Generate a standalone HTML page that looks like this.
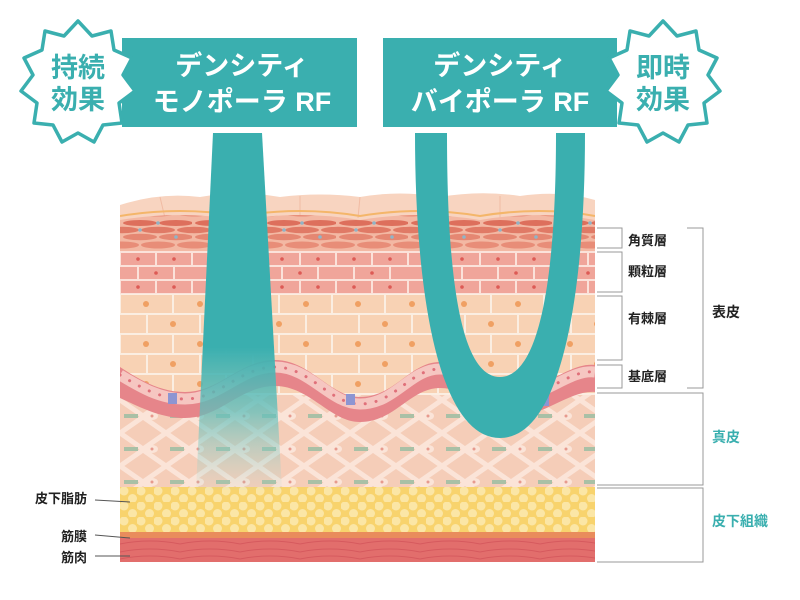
<!DOCTYPE html>
<html><head><meta charset="utf-8"><style>
html,body{margin:0;padding:0;background:#fff;width:800px;height:600px;overflow:hidden}
svg{display:block}
text{font-family:"Liberation Sans","Noto Sans CJK JP",sans-serif;font-weight:bold}
</style></head><body>
<svg width="800" height="600" viewBox="0 0 800 600" xmlns="http://www.w3.org/2000/svg">
<defs>
<pattern id="horny" x="120" y="218" width="72" height="32" patternUnits="userSpaceOnUse">
<rect width="72" height="32" fill="#f3b8a3"/>
<ellipse cx="20" cy="5" rx="17" ry="3" fill="#dd6f5c"/><ellipse cx="56" cy="5" rx="17" ry="3" fill="#dd6f5c"/>
<ellipse cx="2" cy="12" rx="17" ry="3.2" fill="#e07a66"/><ellipse cx="38" cy="12" rx="17" ry="3.2" fill="#e07a66"/><ellipse cx="74" cy="12" rx="17" ry="3.2" fill="#e07a66"/>
<ellipse cx="20" cy="19" rx="17" ry="3.2" fill="#e58772"/><ellipse cx="56" cy="19" rx="17" ry="3.2" fill="#e58772"/>
<ellipse cx="2" cy="27" rx="17" ry="3.5" fill="#e88d78"/><ellipse cx="38" cy="27" rx="17" ry="3.5" fill="#e88d78"/><ellipse cx="74" cy="27" rx="17" ry="3.5" fill="#e88d78"/>
<circle cx="38" cy="5" r="1.8" fill="#8fb5c8"/><circle cx="20" cy="12" r="1.8" fill="#8fb5c8"/><circle cx="56" cy="19" r="1.8" fill="#8fb5c8"/>
</pattern>
<pattern id="brick" x="120" y="252" width="72" height="28" patternUnits="userSpaceOnUse">
<rect width="72" height="28" fill="#fbe2da"/>
<rect x="1" y="1" width="34" height="12" fill="#f0a59a"/><rect x="37" y="1" width="34" height="12" fill="#f0a59a"/>
<rect x="-17" y="15" width="34" height="12" fill="#f0a59a"/><rect x="19" y="15" width="34" height="12" fill="#f0a59a"/><rect x="55" y="15" width="34" height="12" fill="#f0a59a"/>
<circle cx="18" cy="7" r="1.8" fill="#dd5a55"/><circle cx="54" cy="7" r="1.8" fill="#dd5a55"/><circle cx="36" cy="21" r="1.8" fill="#dd5a55"/>
</pattern>
<pattern id="spin" x="120" y="294" width="106" height="40" patternUnits="userSpaceOnUse">
<rect width="106" height="40" fill="#fbeee2"/>
<rect x="1" y="1" width="51" height="18" fill="#f8d2b4"/><rect x="54" y="1" width="51" height="18" fill="#f8d2b4"/>
<rect x="-25" y="21" width="51" height="18" fill="#f8d2b4"/><rect x="28" y="21" width="51" height="18" fill="#f8d2b4"/><rect x="81" y="21" width="51" height="18" fill="#f8d2b4"/>
<circle cx="26" cy="10" r="3" fill="#f0a063"/><circle cx="80" cy="10" r="3" fill="#f0a063"/><circle cx="53" cy="30" r="3" fill="#f0a063"/>
</pattern>
<pattern id="derm" x="120" y="400" width="46" height="33" patternUnits="userSpaceOnUse">
<rect width="46" height="33" fill="#f5cdb8"/>
<path d="M0 0 L23 16 L46 0 M0 33 L23 17 L46 33" stroke="#fbe4d8" stroke-width="5" fill="none"/>
<rect x="4" y="14" width="14" height="4" fill="#a9c0a6"/>
<ellipse cx="32" cy="16" rx="6" ry="4" fill="#fbe4d8"/><circle cx="32" cy="16" r="1.5" fill="#e79a8e"/>
</pattern>
<pattern id="fat" x="120" y="487" width="17" height="15" patternUnits="userSpaceOnUse">
<rect width="17" height="15" fill="#f8d36d"/>
<circle cx="4" cy="4" r="4.5" fill="#fbe6a6"/><circle cx="12.5" cy="11.5" r="4.5" fill="#fbe6a6"/>
</pattern>
<pattern id="muscle" x="120" y="538" width="60" height="24" patternUnits="userSpaceOnUse">
<rect width="60" height="24" fill="#e26e6c"/>
<path d="M0 6 Q30 0 60 6 M0 14 Q30 8 60 14 M0 21 Q30 15 60 21" stroke="#d65a5e" stroke-width="1" fill="none"/>
</pattern>
<linearGradient id="fade" gradientUnits="userSpaceOnUse" x1="0" y1="133" x2="0" y2="490">
<stop offset="0" stop-color="#3aafaf" stop-opacity="1"/>
<stop offset="0.6" stop-color="#3aafaf" stop-opacity="1"/>
<stop offset="0.78" stop-color="#5fbfbb" stop-opacity="0.75"/>
<stop offset="1" stop-color="#9fd7d0" stop-opacity="0.05"/>
</linearGradient>
<clipPath id="skin"><rect x="120" y="190" width="475" height="372"/></clipPath>
</defs>

<g clip-path="url(#skin)">
<path d="M120 205 Q160 192 200 197 Q240 190 280 197 Q320 192 360 197 Q400 190 440 197 Q480 190 520 196 Q560 190 595 200 L595 222 L120 222 Z" fill="#f8d4c0"/>
<path d="M160 197 L165 218 M230 194 L230 218 M300 196 L300 218 M360 197 L358 218 M430 194 L430 218 M500 196 L500 218 M560 194 L560 218" stroke="#f1bba3" stroke-width="1"/>
<path d="M120 216 Q180 206 240 216 Q300 206 360 216 Q420 206 480 216 Q540 206 595 216" stroke="#f4b66a" stroke-width="2" fill="none"/>
<path d="M120 220 Q180 210 240 220 Q300 210 360 220 Q420 210 480 220 Q540 210 595 220 L595 252 L120 252 Z" fill="url(#horny)"/>
<rect x="120" y="251" width="475" height="44" fill="url(#brick)"/>
<rect x="120" y="294" width="475" height="110" fill="url(#spin)"/>
<rect x="120" y="395" width="475" height="93" fill="url(#derm)"/>
<path d="M120 367 C140 380 160 392 185 392 C220 392 240 360 275 360 C310 360 330 397 360 397 C395 397 410 362 440 362 C470 362 485 390 515 390 C545 390 570 362 595 365 L595 392 C570 390 545 416 515 416 C485 416 470 388 440 388 C410 388 395 422 360 422 C330 422 310 386 275 386 C240 386 220 418 185 418 C160 418 140 407 120 398 Z" fill="#e6858a"/>
<path d="M120 375 C140 387 160 399 185 399 C220 399 240 367 275 367 C310 367 330 404 360 404 C395 404 410 369 440 369 C470 369 485 397 515 397 C545 397 570 369 595 372" stroke="#f6c6c1" stroke-width="11" fill="none"/>
<path d="M120 375 C140 387 160 399 185 399 C220 399 240 367 275 367 C310 367 330 404 360 404 C395 404 410 369 440 369 C470 369 485 397 515 397 C545 397 570 369 595 372" stroke="#e0707a" stroke-width="3" stroke-linecap="round" stroke-dasharray="0.1 11" fill="none"/>
<rect x="168" y="393" width="9" height="11" fill="#8d95d2"/><rect x="346" y="394" width="9" height="11" fill="#8d95d2"/><rect x="540" y="395" width="9" height="11" fill="#8d95d2"/>
<rect x="120" y="487" width="475" height="46" fill="url(#fat)"/>
<rect x="120" y="532" width="475" height="7" fill="#e98c5c"/>
<rect x="120" y="538" width="475" height="24" fill="url(#muscle)"/>
</g>
<!-- mono beam -->
<path d="M213 133 L262 133 L282 490 L196 490 Z" fill="url(#fade)"/>
<!-- bipolar U -->
<path d="M415 133 C415 300 440 438 500 438 C560 438 585 300 585 133 L556 133 C556 285 538 377 500 377 C462 377 447 285 447 133 Z" fill="#3aafaf"/>

<rect x="122" y="38" width="235" height="89" fill="#3aafaf"/>
<text x="242" y="75" font-size="27" fill="#fff" text-anchor="middle">デンシティ</text>
<text x="242" y="111" font-size="27" fill="#fff" text-anchor="middle">モノポーラ RF</text>
<rect x="383" y="38" width="234" height="89" fill="#3aafaf"/>
<text x="500" y="75" font-size="27" fill="#fff" text-anchor="middle">デンシティ</text>
<text x="500" y="111" font-size="27" fill="#fff" text-anchor="middle">バイポーラ RF</text>

<g transform="translate(-2,5)">
<polygon points="80,16 94,31 113,26 116,45 134,53 125,70 137,86 121,98 124,118 105,120 96,137 80,128 64,137 55,120 36,118 39,98 23,86 35,70 26,53 44,45 47,26 66,31" fill="#fff" stroke="#3aafaf" stroke-width="3.5" stroke-linejoin="round"/>
<text x="80" y="72" font-size="27" fill="#3aafaf" text-anchor="middle">持続</text>
<text x="80" y="104" font-size="27" fill="#3aafaf" text-anchor="middle">効果</text>
</g>
<g transform="translate(583,5)">
<polygon points="80,16 94,31 113,26 116,45 134,53 125,70 137,86 121,98 124,118 105,120 96,137 80,128 64,137 55,120 36,118 39,98 23,86 35,70 26,53 44,45 47,26 66,31" fill="#fff" stroke="#3aafaf" stroke-width="3.5" stroke-linejoin="round"/>
<text x="80" y="72" font-size="27" fill="#3aafaf" text-anchor="middle">即時</text>
<text x="80" y="104" font-size="27" fill="#3aafaf" text-anchor="middle">効果</text>
</g>

<g stroke="#999" stroke-width="1" fill="none">
<path d="M597 228 H622 V248 H597"/>
<path d="M597 252 H622 V292 H597"/>
<path d="M597 296 H622 V360 H597"/>
<path d="M597 365 H622 V388 H597"/>
<path d="M687 228 H703 V388 H687"/>
<path d="M597 393 H703 V485 H597"/>
<path d="M597 488 H703 V562 H597"/>
<path d="M95 500 L130 502 M95 535 L130 538 M95 556 L130 556" stroke="#555"/>
</g>
<g font-size="13" fill="#222">
<text x="628" y="245">角質層</text>
<text x="628" y="276">顆粒層</text>
<text x="628" y="323">有棘層</text>
<text x="628" y="381">基底層</text>
<text x="712" y="317" font-size="14">表皮</text>
<text x="712" y="442" font-size="14" fill="#3aafaf">真皮</text>
<text x="712" y="526" font-size="14" fill="#3aafaf">皮下組織</text>
<text x="87" y="503" text-anchor="end">皮下脂肪</text>
<text x="87" y="541" text-anchor="end">筋膜</text>
<text x="87" y="562" text-anchor="end">筋肉</text>
</g>
</svg>
</body></html>
